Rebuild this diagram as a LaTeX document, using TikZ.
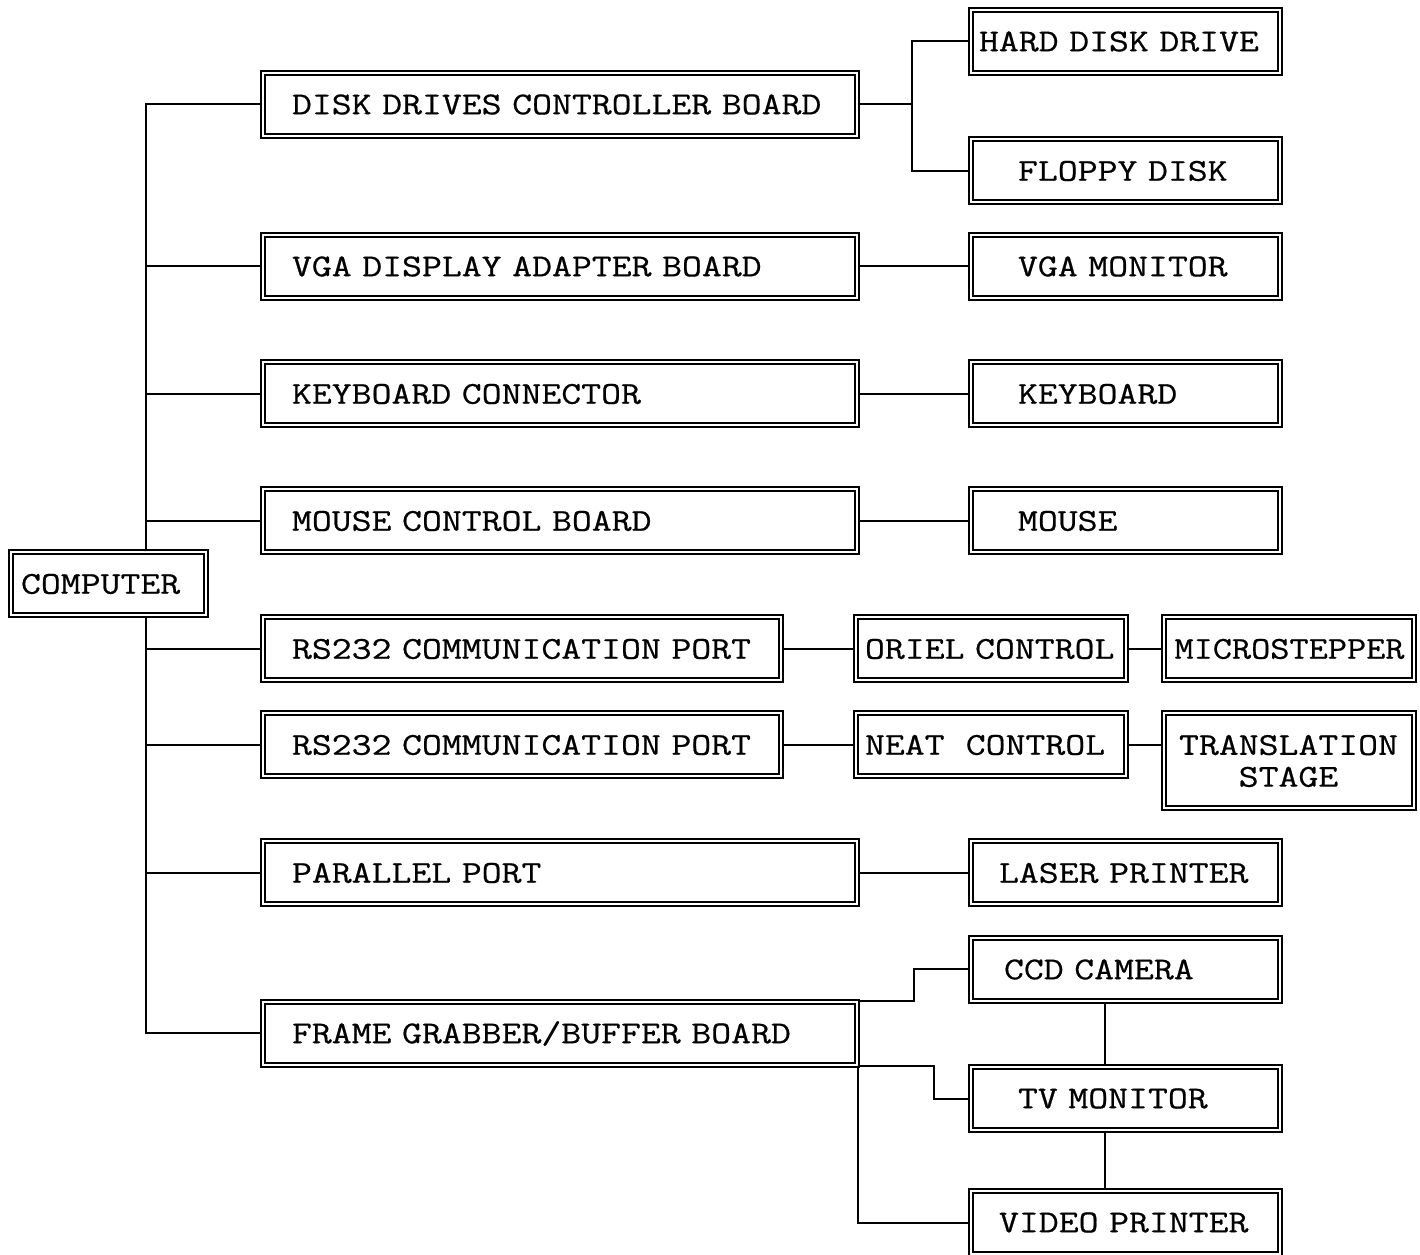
\documentclass[tikz,border=0pt]{standalone}
\usepackage{fontspec}
\setmainfont{Latin Modern Mono}[FakeStretch=1.215, FakeBold=0.6]
\hyphenpenalty=10000

\tikzset{
  box/.style 2 args={draw, double, double distance=0.4mm, line width=0.4mm,
    anchor=west, align=left, inner xsep=0pt, minimum height=12.6mm,
    text width=#1, execute at begin node={\hspace*{#2}}},
  wire/.style={line width=0.4mm}
}

\begin{document}
\begin{tikzpicture}[x=0.2mm, y=-0.2mm, font=\fontsize{18.1pt}{18.1pt}\selectfont]
%\draw [help lines, step=100] (0,0) grid (1420,1255);
\useasboundingbox (0,0) rectangle (1420,1255);

\node [box={39mm}{2.1mm}] (computer) at (9.5,584) {COMPUTER};

\node [box={118.8mm}{5.9mm}] (ddc) at (261.5,104.5) {DISK DRIVES CONTROLLER BOARD};
\node [box={118.8mm}{5.9mm}] (vga) at (261.5,266.5) {VGA DISPLAY ADAPTER BOARD};
\node [box={118.8mm}{5.9mm}] (kbc) at (261.5,394) {KEYBOARD CONNECTOR};
\node [box={118.8mm}{5.9mm}] (mcb) at (261.5,521) {MOUSE CONTROL BOARD};
\node [box={103.6mm}{5.9mm}] (rsa) at (261.5,649) {RS232 COMMUNICATION PORT};
\node [box={103.6mm}{5.9mm}] (rsb) at (261.5,745) {RS232 COMMUNICATION PORT};
\node [box={118.8mm}{5.9mm}] (par) at (261.5,873) {PARALLEL PORT};
\node [box={118.8mm}{5.9mm}] (fgb) at (261.5,1033.5) {FRAME GRABBER/BUFFER BOARD};

\node [box={61.8mm}{1.7mm}] (hdd) at (969.5,41.5) {HARD DISK DRIVE};
\node [box={61.8mm}{9.5mm}] (fdd) at (969.5,171) {FLOPPY DISK};
\node [box={61.8mm}{9.5mm}] (vgamon) at (969.5,266.5) {VGA MONITOR};
\node [box={61.8mm}{9.5mm}] (kbd) at (969.5,394) {KEYBOARD};
\node [box={61.8mm}{9.5mm}] (mouse) at (969.5,521) {MOUSE};
\node [box={54mm}{1.9mm}] (oriel) at (854.5,649) {ORIEL CONTROL};
\node [box={54mm}{1.9mm}] (neat) at (854.5,745) {NEAT\ \ CONTROL};
\node [box={50mm}{2.2mm}, font=\fontsize{18.1pt}{18.1pt}\selectfont\addfontfeatures{FakeStretch=1.17}] (micro) at (1162.5,649) {MICROSTEPPER};
\node [box={50mm}{0mm}, align=center, minimum height=19mm] (stage) at (1162.5,761) {TRANSLATION\\STAGE};
\node [box={61.8mm}{5.7mm}] (laser) at (969.5,873) {LASER PRINTER};
\node [box={61.8mm}{6.7mm}] (ccd) at (969.5,969.5) {CCD CAMERA};
\node [box={61.8mm}{9.5mm}] (tv) at (969.5,1098.5) {TV MONITOR};
\node [box={61.8mm}{5.7mm}] (vprint) at (969.5,1222.5) {VIDEO PRINTER};

% bus from the computer
\coordinate (spine) at (146,0);
\draw [wire] (computer.north -| spine) |- (ddc.west);
\draw [wire] (computer.north -| spine) |- (vga.west);
\draw [wire] (computer.north -| spine) |- (kbc.west);
\draw [wire] (computer.north -| spine) |- (mcb.west);
\draw [wire] (computer.south -| spine) |- (rsa.west);
\draw [wire] (computer.south -| spine) |- (rsb.west);
\draw [wire] (computer.south -| spine) |- (par.west);
\draw [wire] (computer.south -| spine) |- (fgb.west);

\draw [wire] (ddc.east) -- ++(54,0) coordinate (fork);
\draw [wire] (fork) |- (hdd.west);
\draw [wire] (fork) |- (fdd.west);
\draw [wire] (vga.east) -- (vgamon.west);
\draw [wire] (kbc.east) -- (kbd.west);
\draw [wire] (mcb.east) -- (mouse.west);
\draw [wire] (rsa.east) -- (oriel.west);
\draw [wire] (oriel.east) -- (micro.west);
\draw [wire] (rsb.east) -- (neat.west);
\draw [wire] (neat.east) -- (neat.east -| stage.west);
\draw [wire] (par.east) -- (laser.west);

% video chain
\draw [wire] (fgb.north east) -- ++(56,0) |- (ccd.west);
\draw [wire] (fgb.south east) -- ++(76,0) |- (tv.west);
\draw [wire] (fgb.south east) |- (vprint.west);
\draw [wire] ([xshift=-4mm]ccd.south) -- ([xshift=-4mm]tv.north);
\draw [wire] ([xshift=-4mm]tv.south) -- ([xshift=-4mm]vprint.north);

\end{tikzpicture}
\end{document}
